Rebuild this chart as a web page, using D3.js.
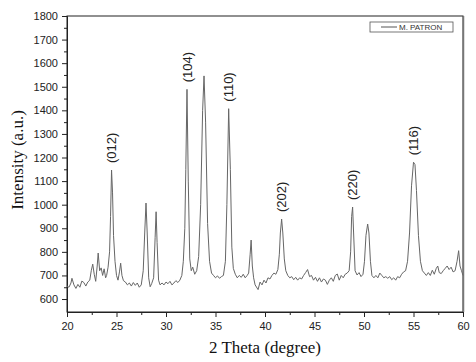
<!DOCTYPE html>
<html>
<head>
<meta charset="utf-8">
<script src="https://cdn.jsdelivr.net/npm/d3@7"></script>
<style>
  body { margin: 0; background: #fff; }
  .tick text { font-family: Arial, "Liberation Sans", sans-serif; font-size: 11px; fill: #222; }
  .axis path, .axis line { stroke: #222; }
  .line { fill: none; stroke: #666; stroke-width: 1; }
  .hkl { font-family: Arial, "Liberation Sans", sans-serif; font-size: 13px; fill: #222; }
  .title { font-family: "Liberation Serif", "Times New Roman", serif; font-size: 17px; fill: #111; }
</style>
</head>
<body>
<div id="chart"></div>
<script>
// measured pattern, 2 theta (degree) and intensity (a.u.)
var theta = [20.0, 20.2, 20.4, 20.5, 20.7, 20.9, 21.1, 21.3, 21.5, 21.7, 21.9, 22.1, 22.3, 22.45, 22.6, 22.75, 22.9, 23.05, 23.15, 23.3,
  23.45, 23.6, 23.75, 23.9, 24.0, 24.15, 24.3, 24.4, 24.5, 24.6, 24.7, 24.85, 25.0, 25.15, 25.3, 25.42, 25.55, 25.7, 25.9, 26.1,
  26.3, 26.5, 26.7, 26.9, 27.1, 27.3, 27.5, 27.7, 27.85, 27.98, 28.1, 28.25, 28.4, 28.55, 28.75, 28.9, 29.0, 29.1, 29.25, 29.4,
  29.6, 29.8, 30.0, 30.2, 30.4, 30.6, 30.8, 31.0, 31.2, 31.4, 31.6, 31.75, 31.9, 32.0, 32.12, 32.25, 32.4, 32.55, 32.7, 32.9,
  33.1, 33.3, 33.5, 33.7, 33.84, 34.0, 34.2, 34.4, 34.6, 34.8, 35.0, 35.2, 35.4, 35.6, 35.8, 36.0, 36.15, 36.33, 36.5, 36.65,
  36.8, 37.0, 37.2, 37.4, 37.6, 37.8, 38.0, 38.2, 38.35, 38.5, 38.6, 38.72, 38.85, 39.0, 39.3, 39.5, 39.7, 39.9, 40.1, 40.3,
  40.5, 40.7, 40.9, 41.1, 41.3, 41.45, 41.55, 41.68, 41.8, 41.95, 42.1, 42.3, 42.5, 42.7, 42.9, 43.1, 43.3, 43.5, 43.7, 43.9,
  44.1, 44.3, 44.5, 44.7, 44.9, 45.1, 45.3, 45.5, 45.7, 45.9, 46.1, 46.3, 46.5, 46.7, 46.9, 47.1, 47.3, 47.5, 47.7, 47.9,
  48.1, 48.3, 48.5, 48.65, 48.75, 48.85, 48.95, 49.1, 49.3, 49.5, 49.7, 49.9, 50.05, 50.2, 50.37, 50.5, 50.65, 50.8, 51.0, 51.2,
  51.4, 51.6, 51.8, 52.0, 52.2, 52.4, 52.6, 52.8, 53.0, 53.2, 53.4, 53.6, 53.8, 54.0, 54.2, 54.4, 54.6, 54.8, 55.0, 55.15,
  55.3, 55.5, 55.7, 55.9, 56.1, 56.3, 56.5, 56.7, 56.9, 57.1, 57.3, 57.45, 57.6, 57.8, 58.0, 58.2, 58.4, 58.6, 58.8, 59.0,
  59.2, 59.4, 59.56, 59.7, 59.85, 60.0];
var intensity = [655, 650, 668, 688, 660, 645, 662, 650, 676, 670, 655, 672, 680, 720, 748, 705, 675, 740, 795, 720,
  732, 700, 728, 690, 700, 735, 800, 950, 1147, 1050, 870, 760, 700, 680, 715, 752, 700, 678, 672, 660,
  668, 655, 670, 658, 668, 650, 660, 720, 880, 1007, 880, 690, 652, 665, 690, 860, 970, 840, 680, 660,
  668, 660, 672, 665, 675, 660, 668, 678, 670, 680, 700, 760, 900, 1150, 1489, 1100, 770, 720, 735, 705,
  720, 780, 1000, 1400, 1546, 1350, 920, 760, 710, 700, 690, 698, 688, 695, 700, 760, 1000, 1407, 1150, 820,
  730, 705, 690, 700, 692, 705, 690, 700, 710, 790, 850, 740, 690, 660, 640, 672, 660, 680, 668, 690,
  685, 700, 710, 705, 725, 790, 880, 939, 880, 770, 720, 700, 690, 695, 682, 692, 680, 690, 685, 700,
  712, 725, 695, 700, 680, 692, 675, 690, 672, 685, 680, 662, 680, 690, 675, 700, 706, 680, 700, 690,
  705, 710, 720, 800, 950, 990, 880, 720, 702, 712, 695, 705, 760, 870, 918, 880, 760, 700, 690, 700,
  690, 710, 700, 690, 695, 688, 695, 682, 690, 680, 695, 690, 705, 715, 720, 760, 880, 1080, 1180, 1170,
  1060, 870, 760, 720, 710, 700, 712, 700, 722, 705, 730, 740, 712, 708, 720, 730, 740, 725, 735, 715,
  720, 760, 805, 740, 720, 700];

// reflections that are labelled
var hklLabels = ["(012)", "(104)", "(110)", "(202)", "(220)", "(116)"];
var hklTheta = [24.5, 32.12, 36.33, 41.68, 48.85, 55.0];

var seriesName = "M. PATRON";

var totalWidth = 476, totalHeight = 362;
var margin = {top: 16, right: 13, bottom: 50, left: 67};

var svg = d3.select("#chart").append("svg")
    .attr("width", totalWidth)
    .attr("height", totalHeight);

// scaling x and y
var xScale = d3.scaleLinear()
    .domain([20, 60])
    .range([margin.left, totalWidth - margin.right]);

var yScale = d3.scaleLinear()
    .domain([545, 1800])
    .range([totalHeight - margin.bottom, margin.top]);

// minor ticks first, major ticks with labels on top
svg.append("g")
    .attr("class", "axis")
    .attr("transform", "translate(0," + (totalHeight - margin.bottom) + ")")
    .call(d3.axisBottom(xScale).tickValues(d3.range(22.5, 60, 5)).tickSize(3).tickSizeOuter(0).tickFormat(""));

svg.append("g")
    .attr("class", "axis")
    .attr("transform", "translate(0," + (totalHeight - margin.bottom) + ")")
    .call(d3.axisBottom(xScale).tickValues(d3.range(20, 61, 5)).tickSize(5).tickSizeOuter(0)
      .tickPadding(5).tickFormat(d3.format("d")));

svg.append("g")
    .attr("class", "axis")
    .attr("transform", "translate(" + margin.left + ",0)")
    .call(d3.axisLeft(yScale).tickValues(d3.range(650, 1800, 100)).tickSize(3).tickSizeOuter(0).tickFormat(""));

svg.append("g")
    .attr("class", "axis")
    .attr("transform", "translate(" + margin.left + ",0)")
    .call(d3.axisLeft(yScale).tickValues(d3.range(600, 1801, 100)).tickSize(5).tickSizeOuter(0)
      .tickPadding(4).tickFormat(d3.format("d")));

// frame around the plot
svg.append("rect")
    .attr("x", xScale(20))
    .attr("y", yScale(1800))
    .attr("width", xScale(60) - xScale(20))
    .attr("height", yScale(545) - yScale(1800))
    .attr("fill", "none")
    .attr("stroke", "#222")
    .attr("stroke-width", 1);

svg.append("line")
    .attr("x1", xScale(60) + 0.5).attr("x2", xScale(60) + 0.5)
    .attr("y1", yScale(1800)).attr("y2", yScale(545))
    .attr("stroke", "#777")
    .attr("stroke-width", 1.5);

// data
var dataset = theta.map(function(t, i) { return {t: t, v: intensity[i]}; });

var line = d3.line()
    .x(function(d) { return xScale(d.t); })
    .y(function(d) { return yScale(d.v); });

svg.append("path")
    .datum(dataset)
    .attr("class", "line")
    .attr("d", line);

// peak labels, placed just above the peak top
hklLabels.forEach(function(lab, i) {
  var near = dataset.filter(function(d) { return Math.abs(d.t - hklTheta[i]) < 0.3; });
  var top = d3.max(near, function(d) { return d.v; });
  var px = xScale(hklTheta[i]), py = yScale(top) - 7;
  svg.append("text")
      .attr("class", "hkl")
      .attr("transform", "translate(" + [px, py] + ") rotate(-90)")
      .attr("dy", "0.36em")
      .text(lab);
});

// axis titles
svg.append("text")
    .attr("class", "title")
    .attr("text-anchor", "middle")
    .attr("transform", "translate(" + [xScale(40), 353] + ")")
    .text("2 Theta (degree)");

svg.append("text")
    .attr("class", "title")
    .attr("text-anchor", "middle")
    .attr("transform", "translate(" + [23, 160] + ") rotate(-90)")
    .text("Intensity (a.u.)");

// legend
var legend = svg.append("g").attr("transform", "translate(370,22)");
legend.append("rect")
    .attr("width", 83).attr("height", 10)
    .attr("fill", "#fff").attr("stroke", "#555").attr("stroke-width", 0.8);
legend.append("line")
    .attr("x1", 11).attr("x2", 27).attr("y1", 5).attr("y2", 5)
    .attr("stroke", "#555");
legend.append("text")
    .attr("x", 29).attr("y", 8.2)
    .style("font-family", "Arial, 'Liberation Sans', sans-serif")
    .style("font-size", "8px")
    .style("fill", "#333")
    .text(seriesName);
</script>
</body>
</html>
